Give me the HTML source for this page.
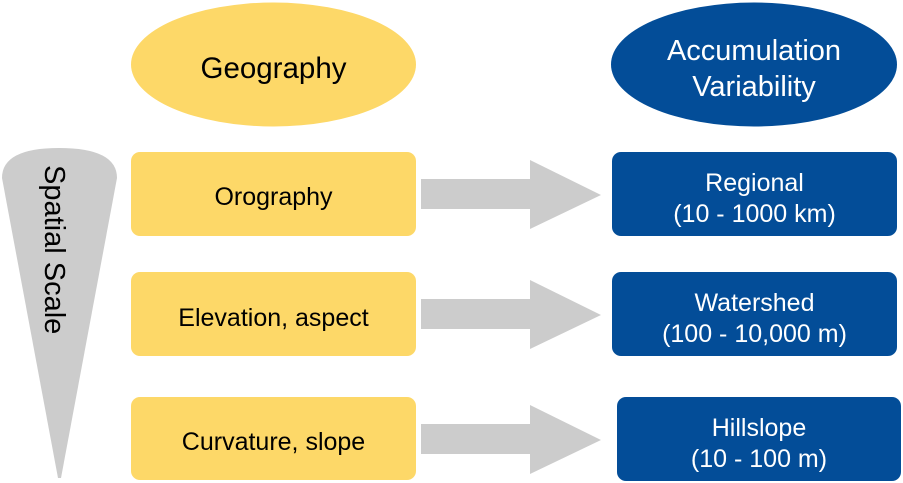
<!DOCTYPE html>
<html><head><meta charset="utf-8"><style>
body{margin:0;background:#fff;}
svg{display:block;font-family:"Liberation Sans",Arial,sans-serif;}
</style></head><body>
<svg width="903" height="483" viewBox="0 0 903 483">
<ellipse cx="273.5" cy="64.5" rx="142.5" ry="62" fill="#FDD868"/>
<text x="273.5" y="78" font-size="29.5" text-anchor="middle" fill="#000">Geography</text>
<ellipse cx="754" cy="64.5" rx="143" ry="62" fill="#034D98"/>
<text x="754" y="60" font-size="29" text-anchor="middle" fill="#fff">Accumulation</text>
<text x="754" y="96" font-size="29" text-anchor="middle" fill="#fff">Variability</text>
<path d="M2 178 Q2 148 59 148 Q117 148 117 178 L61 478 L58 478 Z" fill="#CCCCCC"/>
<text transform="translate(45,165) rotate(90)" font-size="29" fill="#000">Spatial Scale</text>
<g fill="#FDD868">
<rect x="131" y="152" width="285" height="84" rx="9"/>
<rect x="131" y="272" width="285" height="84" rx="9"/>
<rect x="131" y="397" width="285" height="83" rx="9"/>
</g>
<g font-size="25" text-anchor="middle" fill="#000">
<text x="273.5" y="205">Orography</text>
<text x="273.5" y="326">Elevation, aspect</text>
<text x="273.5" y="450">Curvature, slope</text>
</g>
<g fill="#CCCCCC">
<path d="M421 179 H530 V160 L601 195 L530 229 V209 H421 Z"/>
<path d="M421 299 H530 V280 L601 315 L530 349 V329 H421 Z"/>
<path d="M421 424 H530 V405 L601 440 L530 474 V454 H421 Z"/>
</g>
<g fill="#034D98">
<rect x="612" y="152" width="285" height="84" rx="9"/>
<rect x="612" y="272" width="285" height="84" rx="9"/>
<rect x="617" y="397" width="284" height="84" rx="9"/>
</g>
<g font-size="25" text-anchor="middle" fill="#fff">
<text x="754.5" y="191">Regional</text>
<text x="754.5" y="222">(10 - 1000 km)</text>
<text x="754.5" y="311">Watershed</text>
<text x="754.5" y="342">(100 - 10,000 m)</text>
<text x="759" y="436">Hillslope</text>
<text x="759" y="467">(10 - 100 m)</text>
</g>
</svg>
</body></html>
